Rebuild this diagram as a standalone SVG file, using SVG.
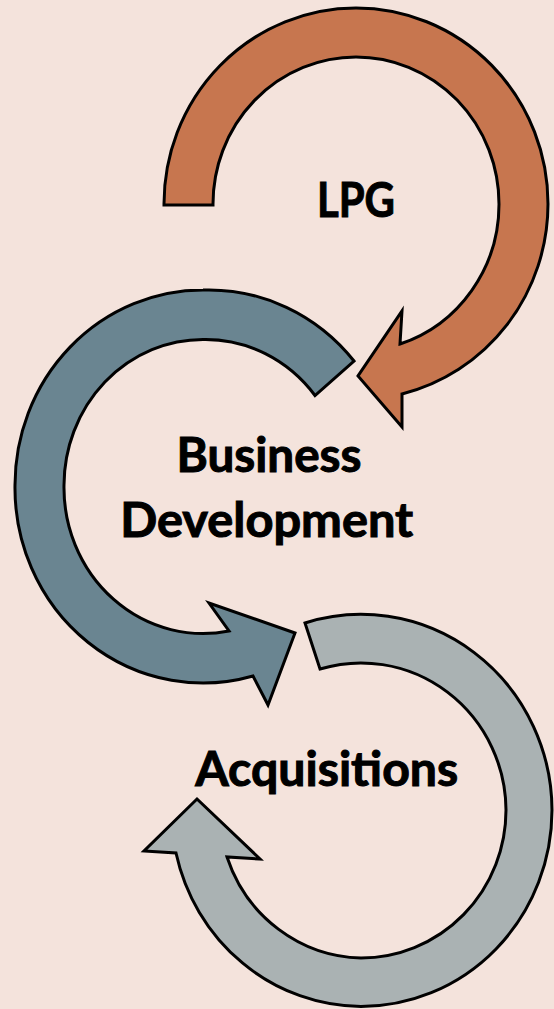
<svg xmlns="http://www.w3.org/2000/svg" width="554" height="1009" viewBox="0 0 554 1009">
  <style>
    .arrow { stroke: #000; stroke-width: 3; stroke-linejoin: miter; stroke-miterlimit: 10; }
    .orange { fill: #C7764F; }
    .blue { fill: #6A8591; }
    .gray { fill: #AAB2B3; }
    .label { font-family: "Lato", "Liberation Sans", sans-serif; font-weight: 700; font-size: 47px; fill: #000; stroke: #000; stroke-width: 1; text-anchor: middle; }
  </style>
  <rect x="0" y="0" width="554" height="1009" fill="#F4E3DC"/>
  <g id="connectors">
    <path id="arrow-lpg" class="arrow orange" d="M164,205 A192,196 0 0 1 356,8 A192,196 0 0 1 548,204 A192,196 0 0 1 402,394 L402,427 L358,376 L402,311 L400,344 A143,147 0 0 0 499,204 A143,147 0 0 0 356,57 A143,147 0 0 0 213,205 Z"/>
    <path id="arrow-bd" class="arrow blue" d="M354,361 A188,195 0 0 0 203,290 A188,195 0 0 0 15,485 A188,195 0 0 0 253,676 L268,705 L295,633 L209,603 L229,631 A139,146 0 0 1 64,485 A139,146 0 0 1 203,339.5 A139,146 0 0 1 315,395.5 Z"/>
    <path id="arrow-acq" class="arrow gray" d="M305,623 A191,196.5 0 0 1 552,810 A191,196.5 0 0 1 361,1006.5 A191,196.5 0 0 1 176,853 L144,851 L197,799 L260,859 L227,857 A145,148 0 0 0 361,958 A145,148 0 0 0 506,810 A145,148 0 0 0 320,669 Z"/>
  </g>
  <g id="node-lpg">
    <text class="label" x="356" y="217" textLength="78" lengthAdjust="spacingAndGlyphs">LPG</text>
  </g>
  <g id="node-business-development">
    <text class="label" x="269" y="471.7" textLength="185" lengthAdjust="spacingAndGlyphs">Business</text>
    <text class="label" x="266.7" y="536.7" textLength="293" lengthAdjust="spacingAndGlyphs">Development</text>
  </g>
  <g id="node-acquisitions">
    <text class="label" x="326.7" y="786" textLength="263" lengthAdjust="spacingAndGlyphs">Acquisitions</text>
  </g>
</svg>
